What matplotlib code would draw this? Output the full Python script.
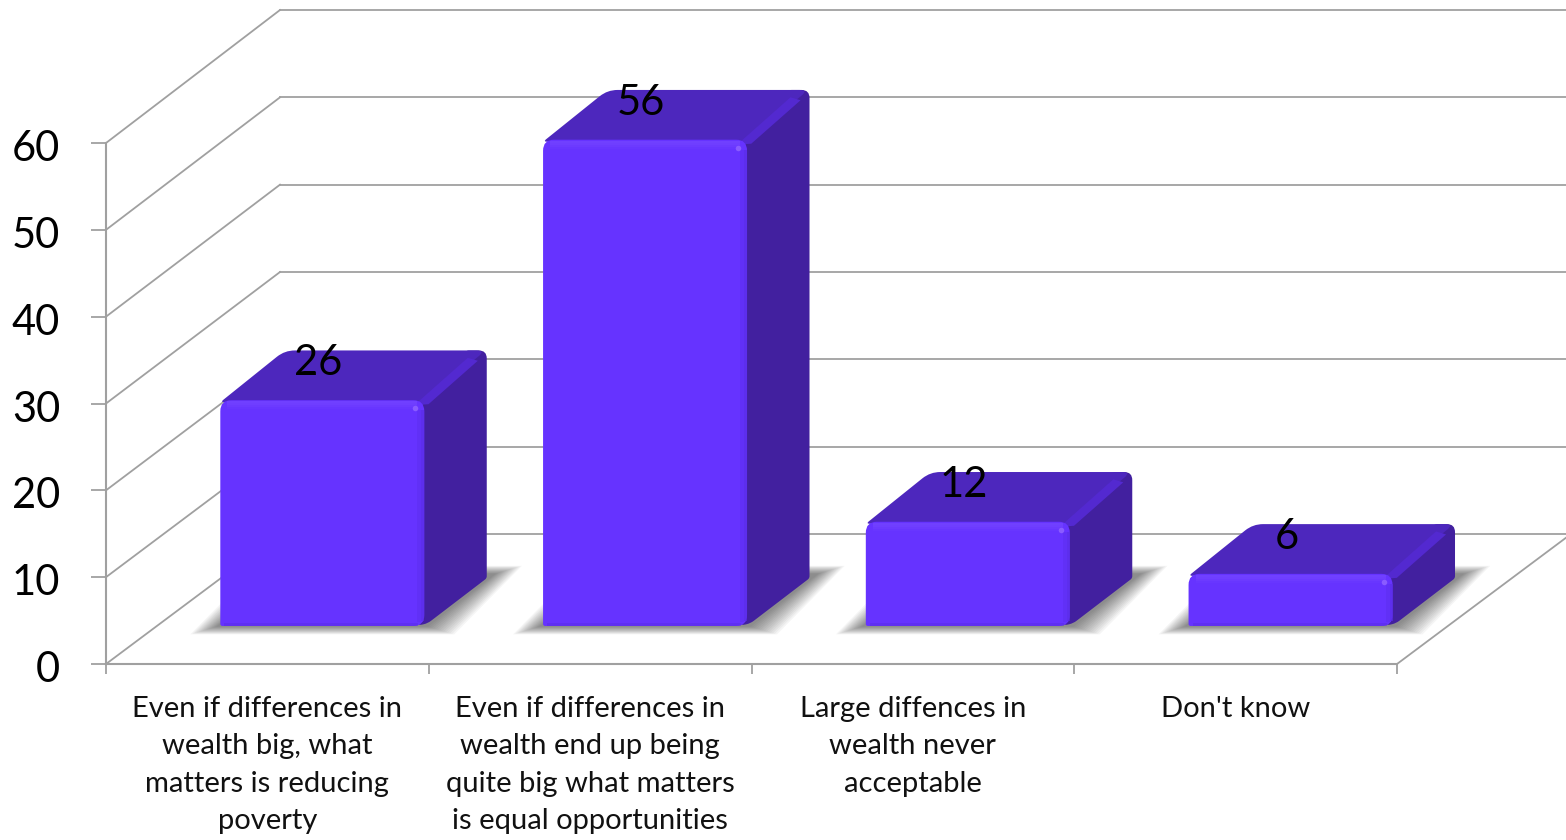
#!/usr/bin/env python3
# -*- coding: utf-8 -*-
import matplotlib
matplotlib.use('Agg')
import matplotlib.pyplot as plt
from matplotlib.patches import PathPatch, Polygon
from matplotlib.path import Path
from matplotlib.transforms import ScaledTranslation
import numpy as np

plt.rcParams['font.family'] = ['Lato', 'DejaVu Sans']

categories = [
    'Even if differences in\nwealth big, what\nmatters is reducing\npoverty',
    'Even if differences in\nwealth end up being\nquite big what matters\nis equal opportunities',
    'Large diffences in\nwealth never\nacceptable',
    "Don't know",
]
values = [26, 56, 12, 6]
y_ticks = [0, 10, 20, 30, 40, 50, 60]

W, H = 1566, 840
GRID = '#a0a0a0'
FRONT = '#6633ff'
TOP = '#4d27bd'
SIDE = '#42209f'

fig = plt.figure(figsize=(W / 100, H / 100), dpi=100)
# front plane of the fake 3D box
ax = fig.add_axes([106 / W, 1 - 664 / H, 1291 / W, 521 / H])
ax.set_xlim(0, 4)
ax.set_ylim(0, 60)

# pixels to data units
PX = 4 / 1291
PY = 60 / 521
# full depth of the box
DX = 174 * PX
DY = 133 * PY
# back wall sits slightly lower and is slightly taller than the front plane
BACK_RISE = 130 * PY
BACK_SCALE = 524 / 521


def proj(x, y, d):
    return (x + d * DX, y + d * DY)


def poly(pts, z, **kw):
    p = Polygon(pts, closed=True, clip_on=False, zorder=z, **kw)
    ax.add_patch(p)
    return p


def rounded(pts, radii, z, color):
    # closed shape with each corner rounded by a radius given in pixels
    scale = np.array([PX, PY])
    pix = np.array(pts) / scale
    n = len(pix)
    verts, codes = [], []
    for k in range(n):
        p, prev, nxt = pix[k], pix[k - 1], pix[(k + 1) % n]
        a = p + (prev - p) / np.linalg.norm(prev - p) * radii[k]
        b = p + (nxt - p) / np.linalg.norm(nxt - p) * radii[k]
        verts.append(a)
        codes.append(Path.MOVETO if k == 0 else Path.LINETO)
        verts += [p, b]
        codes += [Path.CURVE3, Path.CURVE3]
    verts.append(verts[0])
    codes.append(Path.CLOSEPOLY)
    patch = PathPatch(Path(np.array(verts) * scale, codes), facecolor=color,
                      edgecolor='none', clip_on=False, zorder=z)
    ax.add_patch(patch)
    return patch


# walls
for v in y_ticks:
    back = v * BACK_SCALE + BACK_RISE
    ax.plot([0, DX], [v, back], color=GRID, lw=1.3, clip_on=False, zorder=1)
    ax.plot([DX, 4 + DX], [back, back], color=GRID, lw=1.3, clip_on=False, zorder=1)
ax.plot([4, 4 + DX], [0, BACK_RISE], color=GRID, lw=1.3, clip_on=False, zorder=1)

# bars
BAR_L = 0.2
BAR_W = 0.632
D0, D1 = 0.286, 0.645
for i, v in enumerate(values):
    z = 3 + i
    x0 = i + BAR_L
    x1 = x0 + BAR_W

    # soft shadow on the floor, a stack of shrinking see-through shapes
    for k in range(14):
        ex = (14 - k) * 2.0 * PX
        ey = (14 - k) * 0.6 * PY
        poly([proj(x0 - 2 * PX - ex, -ey, D0),
              proj(x1 + 2 * PX + ex, -ey, D0),
              proj(x1 + 2 * PX + ex, ey, D1 + 0.03),
              proj(x0 - 2 * PX - ex, ey, D1 + 0.03)],
             z, facecolor='black', edgecolor='none', alpha=0.04)

    # side face runs up behind the top so no gap opens at the back corner
    rounded([proj(x1 - 8 * PX, 0, D0), proj(x1, 0, D0 + 0.02), proj(x1, 0, D1),
             proj(x1, v + 2 * PY, D1), proj(x1 - 20 * PX, v + 2 * PY, D1), proj(x1 - 8 * PX, v, D0)],
            [6, 4, 2, 8, 2, 2], z, SIDE)
    rounded([proj(x0, v - 2 * PY, D0), proj(x1 - 2 * PX, v - 2 * PY, D0),
             proj(x1 - 1 * PX, v + 2 * PY, D1), proj(x0 + 2 * PX, v + 2 * PY, D1)],
            [4, 2, 9, 10], z, TOP)
    # lighter ridge between top and side
    poly([proj(x1 - 10 * PX, v - 5 * PY, D0), proj(x1 - 1 * PX, v - 8 * PY, D0 + 0.03),
          proj(x1 - 2 * PX, v - 3 * PY, D1 - 0.04), proj(x1 - 12 * PX, v, D1 - 0.04)],
         z, facecolor='#5329d0', edgecolor='none')

    # front face
    fx, fy = proj(x0, 0, D0)
    rounded([(fx, fy), (fx + BAR_W, fy), (fx + BAR_W, fy + v), (fx, fy + v)],
            [2, 11, 11, 11], z, FRONT)
    # glow along the top edge, darker rims on the others
    for t, a in zip([2, 4, 6, 8], [0.55, 0.45, 0.3, 0.15]):
        ax.fill_between([fx + 7 * PX, fx + BAR_W - 7 * PX], fy + v - (t + 1) * PY, fy + v - (t - 1) * PY,
                        color='#7a4cff', lw=0, alpha=a, clip_on=False, zorder=z)
    ax.fill_between([fx + BAR_W - 7 * PX, fx + BAR_W - 3 * PX], fy + 4 * PY, fy + v - 10 * PY,
                    color='#5a2ce6', lw=0, alpha=0.35, clip_on=False, zorder=z)
    ax.fill_between([fx + BAR_W - 3 * PX, fx + BAR_W], fy + 5 * PY, fy + v - 10 * PY,
                    color='#5a2ce6', lw=0, alpha=0.7, clip_on=False, zorder=z)
    ax.fill_between([fx + 4 * PX, fx + BAR_W - 6 * PX], fy, fy + 3 * PY,
                    color='#5a2ce6', lw=0, alpha=0.5, clip_on=False, zorder=z)
    ax.plot([fx + BAR_W - 9 * PX], [fy + v - 8 * PY], 'o', ms=4, color='#8a5cff', mew=0, clip_on=False, zorder=z)

    # value label sits on the top face
    ax.text(fx + BAR_W / 2 - 4 * PX, fy + v + 37 * PY, str(v), fontsize=30, color='black',
            ha='center', va='center', clip_on=False, zorder=10)

# axes
for s in ['top', 'right']:
    ax.spines[s].set_visible(False)
for s in ['left', 'bottom']:
    ax.spines[s].set_color(GRID)
    ax.spines[s].set_linewidth(1.5)
    ax.spines[s].set_zorder(2)
ax.patch.set_visible(False)

ax.set_yticks(y_ticks)
ax.tick_params(axis='y', length=11, width=1.3, color=GRID, labelsize=30, pad=22)
# digits sit a little below their tick in the original
shift = ScaledTranslation(0, -6 / 100, fig.dpi_scale_trans)
for lab in ax.get_yticklabels():
    lab.set_verticalalignment('center')
    lab.set_transform(lab.get_transform() + shift)

ax.set_xticks(range(5))
ax.set_xticklabels([])
ax.tick_params(axis='x', which='major', length=7.5, width=1.3, color=GRID)
ax.set_xticks([i + 0.5 for i in range(4)], minor=True)
ax.set_xticklabels(categories, minor=True, fontsize=21, color='#111111', linespacing=1.54, va='top')
ax.tick_params(axis='x', which='minor', length=0, pad=23)

fig.savefig('out.png', dpi=100)
